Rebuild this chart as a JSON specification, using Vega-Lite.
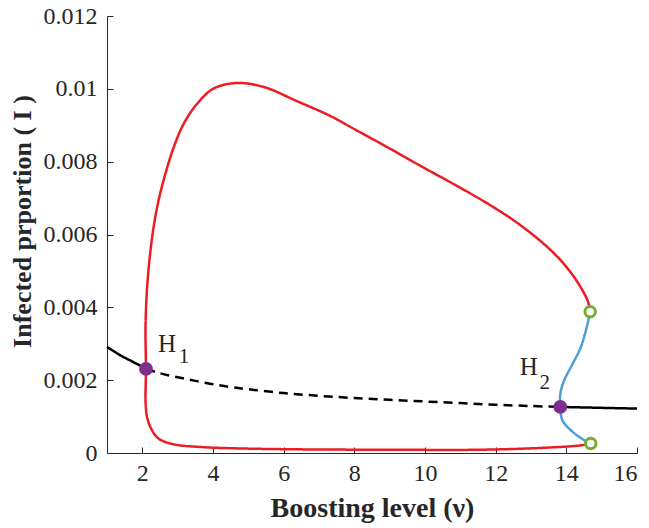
{
  "$schema": "https://vega.github.io/schema/vega-lite/v6.json",
  "width": 530,
  "height": 437,
  "autosize": "none",
  "padding": {"left": 107, "top": 16, "right": 12, "bottom": 75},
  "background": "white",
  "config": {"view": {"stroke": null}},
  "datasets": {
    "curves": [
      {"s": "eqL", "o": 1, "x": 1.0, "y": 0.00291},
      {"s": "eqL", "o": 2, "x": 1.2, "y": 0.00279},
      {"s": "eqL", "o": 3, "x": 1.4, "y": 0.00267},
      {"s": "eqL", "o": 4, "x": 1.7, "y": 0.00252},
      {"s": "eqL", "o": 5, "x": 2.11, "y": 0.00231},
      {"s": "eqM", "o": 1, "x": 2.11, "y": 0.00231},
      {"s": "eqM", "o": 2, "x": 2.5, "y": 0.00219},
      {"s": "eqM", "o": 3, "x": 3.0, "y": 0.00208},
      {"s": "eqM", "o": 4, "x": 3.5, "y": 0.00198},
      {"s": "eqM", "o": 5, "x": 4.0, "y": 0.00189},
      {"s": "eqM", "o": 6, "x": 4.5, "y": 0.00181},
      {"s": "eqM", "o": 7, "x": 5.0, "y": 0.00175},
      {"s": "eqM", "o": 8, "x": 6.0, "y": 0.001645},
      {"s": "eqM", "o": 9, "x": 7.0, "y": 0.00157},
      {"s": "eqM", "o": 10, "x": 8.0, "y": 0.00151},
      {"s": "eqM", "o": 11, "x": 9.0, "y": 0.00146},
      {"s": "eqM", "o": 12, "x": 10.0, "y": 0.001415},
      {"s": "eqM", "o": 13, "x": 11.0, "y": 0.00137},
      {"s": "eqM", "o": 14, "x": 12.0, "y": 0.001325},
      {"s": "eqM", "o": 15, "x": 13.0, "y": 0.00129},
      {"s": "eqM", "o": 16, "x": 13.83, "y": 0.001265},
      {"s": "eqR", "o": 1, "x": 13.83, "y": 0.001265},
      {"s": "eqR", "o": 2, "x": 15.0, "y": 0.00124},
      {"s": "eqR", "o": 3, "x": 16.0, "y": 0.00122},
      {"s": "redU", "o": 1, "x": 2.105, "y": 0.00231},
      {"s": "redU", "o": 2, "x": 2.095, "y": 0.00285},
      {"s": "redU", "o": 3, "x": 2.09, "y": 0.00346},
      {"s": "redU", "o": 4, "x": 2.125, "y": 0.00438},
      {"s": "redU", "o": 5, "x": 2.2, "y": 0.00529},
      {"s": "redU", "o": 6, "x": 2.32, "y": 0.00621},
      {"s": "redU", "o": 7, "x": 2.46, "y": 0.00694},
      {"s": "redU", "o": 8, "x": 2.68, "y": 0.00776},
      {"s": "redU", "o": 9, "x": 2.89, "y": 0.0084},
      {"s": "redU", "o": 10, "x": 3.17, "y": 0.00904},
      {"s": "redU", "o": 11, "x": 3.55, "y": 0.00959},
      {"s": "redU", "o": 12, "x": 4.02, "y": 0.01001},
      {"s": "redU", "o": 13, "x": 4.68, "y": 0.01016},
      {"s": "redU", "o": 14, "x": 5.44, "y": 0.01005},
      {"s": "redU", "o": 15, "x": 6.38, "y": 0.00966},
      {"s": "redU", "o": 16, "x": 7.33, "y": 0.00925},
      {"s": "redU", "o": 17, "x": 7.99, "y": 0.0089},
      {"s": "redU", "o": 18, "x": 8.93, "y": 0.0084},
      {"s": "redU", "o": 19, "x": 9.88, "y": 0.00788},
      {"s": "redU", "o": 20, "x": 10.82, "y": 0.00738},
      {"s": "redU", "o": 21, "x": 11.77, "y": 0.00685},
      {"s": "redU", "o": 22, "x": 12.71, "y": 0.00625},
      {"s": "redU", "o": 23, "x": 13.66, "y": 0.005475},
      {"s": "redU", "o": 24, "x": 14.22, "y": 0.00483},
      {"s": "redU", "o": 25, "x": 14.6, "y": 0.00419},
      {"s": "redU", "o": 26, "x": 14.675, "y": 0.0039},
      {"s": "redL", "o": 1, "x": 2.105, "y": 0.00231},
      {"s": "redL", "o": 2, "x": 2.095, "y": 0.00185},
      {"s": "redL", "o": 3, "x": 2.09, "y": 0.001445},
      {"s": "redL", "o": 4, "x": 2.133, "y": 0.000989},
      {"s": "redL", "o": 5, "x": 2.275, "y": 0.000623},
      {"s": "redL", "o": 6, "x": 2.46, "y": 0.000395},
      {"s": "redL", "o": 7, "x": 2.89, "y": 0.000239},
      {"s": "redL", "o": 8, "x": 3.64, "y": 0.000165},
      {"s": "redL", "o": 9, "x": 4.59, "y": 0.000129},
      {"s": "redL", "o": 10, "x": 6.48, "y": 0.0001},
      {"s": "redL", "o": 11, "x": 9.0, "y": 0.00009},
      {"s": "redL", "o": 12, "x": 11.6, "y": 0.00009},
      {"s": "redL", "o": 13, "x": 13.47, "y": 0.000148},
      {"s": "redL", "o": 14, "x": 14.41, "y": 0.00021},
      {"s": "redL", "o": 15, "x": 14.69, "y": 0.000258},
      {"s": "blue", "o": 1, "x": 14.667, "y": 0.00387},
      {"s": "blue", "o": 2, "x": 14.6, "y": 0.00355},
      {"s": "blue", "o": 3, "x": 14.41, "y": 0.00291},
      {"s": "blue", "o": 4, "x": 14.13, "y": 0.00236},
      {"s": "blue", "o": 5, "x": 13.94, "y": 0.001996},
      {"s": "blue", "o": 6, "x": 13.83, "y": 0.00163},
      {"s": "blue", "o": 7, "x": 13.83, "y": 0.001265},
      {"s": "blue", "o": 8, "x": 13.89, "y": 0.000898},
      {"s": "blue", "o": 9, "x": 14.13, "y": 0.000623},
      {"s": "blue", "o": 10, "x": 14.51, "y": 0.000349},
      {"s": "blue", "o": 11, "x": 14.69, "y": 0.000258}
    ],
    "hopf": [
      {"x": 2.105, "y": 0.00231},
      {"x": 13.83, "y": 0.001265}
    ],
    "limit": [
      {"x": 14.675, "y": 0.00388},
      {"x": 14.69, "y": 0.000258}
    ],
    "labels": [
      {"x": 2.445, "y": 0.002773, "t": "H", "sz": "big"},
      {"x": 3.03, "y": 0.002463, "t": "1", "sz": "small"},
      {"x": 12.68, "y": 0.002133, "t": "H", "sz": "big"},
      {"x": 13.24, "y": 0.001763, "t": "2", "sz": "small"}
    ]
  },
  "layer": [
    {
      "data": {"name": "curves"},
      "mark": {"type": "line", "interpolate": "catmull-rom", "strokeCap": "butt", "strokeJoin": "round"},
      "encoding": {
        "x": {
          "field": "x", "type": "quantitative",
          "scale": {"domain": [1, 16], "nice": false, "zero": false},
          "axis": {
            "title": "Boosting level (ν)",
            "values": [2, 4, 6, 8, 10, 12, 14, 16],
            "grid": false,
            "tickSize": -6,
            "labelPadding": 14,
            "labelFont": "Liberation Serif",
            "labelFontSize": 24,
            "labelColor": "#262626",
            "domainColor": "#262626",
            "tickColor": "#262626",
            "titleFont": "Liberation Serif",
            "titleFontSize": 28,
            "titleFontWeight": "bold",
            "titleColor": "#262626",
            "titlePadding": 9
          }
        },
        "y": {
          "field": "y", "type": "quantitative",
          "scale": {"domain": [0, 0.012], "nice": false},
          "axis": {
            "title": "Infected prportion ( I )",
            "values": [0, 0.002, 0.004, 0.006, 0.008, 0.01, 0.012],
            "format": "~g",
            "grid": false,
            "tickSize": -6,
            "labelPadding": 16,
            "labelFont": "Liberation Serif",
            "labelFontSize": 24,
            "labelColor": "#262626",
            "domainColor": "#262626",
            "tickColor": "#262626",
            "titleFont": "Liberation Serif",
            "titleFontSize": 26,
            "titleFontWeight": "bold",
            "titleColor": "#262626",
            "titlePadding": 8,
            "titleY": 205
          }
        },
        "order": {"field": "o", "type": "quantitative"},
        "detail": {"field": "s"},
        "color": {
          "field": "s", "type": "nominal", "legend": null,
          "scale": {
            "domain": ["eqL", "eqM", "eqR", "redU", "redL", "blue"],
            "range": ["#000000", "#000000", "#000000", "#EC1C24", "#EC1C24", "#4C9ED9"]
          }
        },
        "strokeDash": {
          "field": "s", "type": "nominal", "legend": null,
          "scale": {
            "domain": ["eqL", "eqM", "eqR", "redU", "redL", "blue"],
            "range": [[1, 0], [9, 6], [1, 0], [1, 0], [1, 0], [1, 0]]
          }
        },
        "strokeWidth": {
          "field": "s", "type": "nominal", "legend": null,
          "scale": {
            "domain": ["eqL", "eqM", "eqR", "redU", "redL", "blue"],
            "range": [2.5, 2.5, 2.5, 3, 3, 2.5]
          }
        }
      }
    },
    {
      "data": {"name": "limit"},
      "mark": {"type": "point", "filled": false, "fill": "white", "stroke": "#77AC30", "strokeWidth": 3, "size": 110, "opacity": 1},
      "encoding": {
        "x": {"field": "x", "type": "quantitative"},
        "y": {"field": "y", "type": "quantitative"}
      }
    },
    {
      "data": {"name": "hopf"},
      "mark": {"type": "point", "filled": true, "color": "#7E2F8E", "size": 190, "opacity": 1},
      "encoding": {
        "x": {"field": "x", "type": "quantitative"},
        "y": {"field": "y", "type": "quantitative"}
      }
    },
    {
      "data": {"name": "labels"},
      "mark": {"type": "text", "align": "left", "baseline": "alphabetic", "font": "Liberation Serif", "color": "#262626"},
      "encoding": {
        "x": {"field": "x", "type": "quantitative"},
        "y": {"field": "y", "type": "quantitative"},
        "text": {"field": "t"},
        "size": {
          "field": "sz", "type": "nominal", "legend": null,
          "scale": {"domain": ["big", "small"], "range": [25, 21]}
        }
      }
    }
  ]
}
